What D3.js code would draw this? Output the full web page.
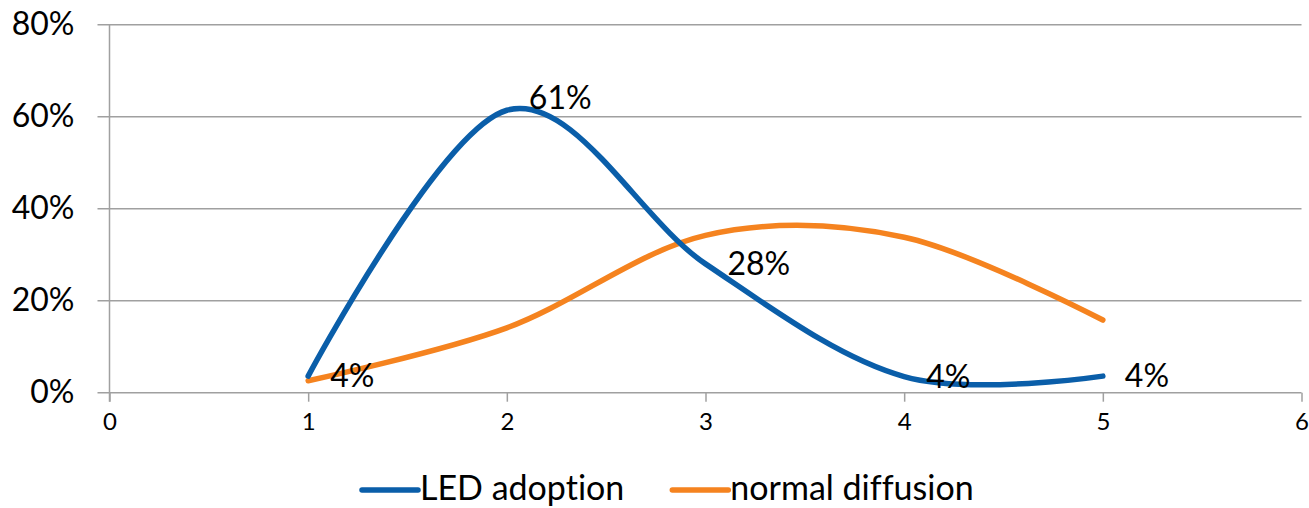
<!DOCTYPE html>
<html>
<head>
<meta charset="utf-8">
<script src="https://cdn.jsdelivr.net/npm/d3@7/dist/d3.min.js"></script>
<style>
  html, body { margin: 0; padding: 0; background: #fff; }
  svg { display: block; font-family: Lato, "Open Sans", sans-serif; font-variant-ligatures: none; }
</style>
</head>
<body>
<svg id="chart" width="1309" height="508"></svg>
<script>
// Period index on the x axis
const periods = [1, 2, 3, 4, 5];
// Share of adopters per period
const ledAdoption = [0.036, 0.614, 0.28, 0.035, 0.036];
const normalDiffusion = [0.026, 0.141, 0.342, 0.338, 0.158];
const seriesNames = ["LED adoption", "normal diffusion"];
const xTicks = [0, 1, 2, 3, 4, 5, 6];
const yTicks = [0, 0.2, 0.4, 0.6, 0.8];

const colors = ["#0a5ea9", "#f5831f"];
const gridColor = "#a0a0a0";

const svg = d3.select("#chart");
const plot = { left: 109.5, right: 1301.5, top: 24.7, bottom: 392.7 };

const x = d3.scaleLinear().domain([0, 6]).range([plot.left, plot.right]);
const y = d3.scaleLinear().domain([0, 0.8]).range([plot.bottom, plot.top]);

// horizontal gridlines (the 0% one doubles as the x axis)
svg.append("g")
  .selectAll("line")
  .data(yTicks)
  .join("line")
  .attr("x1", plot.left - 12).attr("x2", plot.right)
  .attr("y1", d => y(d)).attr("y2", d => y(d))
  .attr("stroke", gridColor).attr("stroke-width", 1.5);

// vertical axis line
svg.append("line")
  .attr("x1", plot.left).attr("x2", plot.left)
  .attr("y1", plot.top).attr("y2", plot.bottom + 9)
  .attr("stroke", gridColor).attr("stroke-width", 1.5);

// x axis ticks and labels
const xAxis = d3.axisBottom(x).tickValues(xTicks).tickSize(9).tickPadding(11).tickFormat(d3.format("d"));
const gx = svg.append("g").attr("transform", `translate(0,${plot.bottom})`).call(xAxis);
gx.select(".domain").remove();
gx.selectAll(".tick line").attr("stroke", gridColor).attr("stroke-width", 1.5);
gx.selectAll(".tick text").attr("font-size", 24).attr("fill", "#000").attr("font-family", "Lato, sans-serif");

// y axis labels
const yAxis = d3.axisLeft(y).tickValues(yTicks).tickSize(0).tickPadding(35).tickFormat(d3.format(".0%"));
const gy = svg.append("g").attr("transform", `translate(${plot.left},0)`).call(yAxis);
gy.select(".domain").remove();
gy.selectAll(".tick text").attr("font-size", 32).attr("fill", "#000").attr("font-family", "Lato, sans-serif");

// smoothed lines
const line = d3.line()
  .x(d => x(d[0]))
  .y(d => y(d[1]))
  .curve(d3.curveCardinal.tension(0));

const series = [ledAdoption, normalDiffusion];
series.slice().reverse().forEach((vals, ri) => {
  const i = series.length - 1 - ri;
  svg.append("path")
    .datum(periods.map((p, k) => [p, vals[k]]))
    .attr("d", line)
    .attr("fill", "none")
    .attr("stroke", colors[i])
    .attr("stroke-width", 5.5)
    .attr("stroke-linecap", "round");
});

// value labels on the LED series, placed to the right of each point
const peak = d3.maxIndex(ledAdoption);
svg.append("g")
  .selectAll("text")
  .data(periods.map((p, k) => [p, ledAdoption[k], k]))
  .join("text")
  .attr("x", d => x(d[0]) + 22)
  .attr("y", d => y(d[1]) + (d[2] === peak ? -9 : 3))
  .attr("dominant-baseline", "middle")
  .attr("font-size", 32)
  .attr("fill", "#000")
  .text(d => d3.format(".0%")(d[1]));

// legend
const legend = svg.append("g").attr("transform", "translate(362,490)");
let cx = 0;
seriesNames.forEach((name, i) => {
  legend.append("line")
    .attr("x1", cx).attr("x2", cx + 56)
    .attr("y1", 0).attr("y2", 0)
    .attr("stroke", colors[i]).attr("stroke-width", 5.5)
    .attr("stroke-linecap", "round");
  const t = legend.append("text")
    .attr("x", cx + 58).attr("y", 1)
    .attr("dominant-baseline", "middle")
    .attr("font-size", 34)
    .attr("fill", "#000")
    .text(name);
  cx += 58 + t.node().getComputedTextLength() + 48;
});
</script>
</body>
</html>
